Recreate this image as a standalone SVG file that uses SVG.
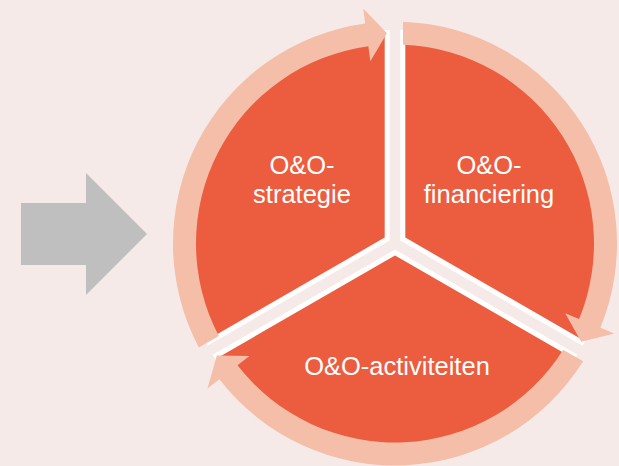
<svg xmlns="http://www.w3.org/2000/svg" width="619" height="466" viewBox="0 0 619 466">
  <style>
    .sector { fill: #EB5D3E; stroke: #FFFFFF; stroke-width: 5; stroke-linejoin: miter; }
    .ring { fill: #F5BEA8; }
    .label { fill: #FFFFFF; font-family: "Liberation Sans", Arial, sans-serif; font-size: 25.5px; text-anchor: middle; }
  </style>
  <defs>
    <path id="ringArrow" d="M -196.13 104.0 A 222 222 0 0 1 -29.75 -220.0 L -31.76 -234.9 L -8 -210.35 L -24.65 -182.3 L -26.67 -197.2 A 199 199 0 0 0 -176.2 92.49 Z"/>
  </defs>
  <rect x="0" y="0" width="619" height="466" fill="#F5EAE8"/>
  <g id="input-arrow">
    <polygon points="21,203 86,203 86,173 147,234 86,295 86,265 21,265" fill="#BFBFBF"/>
  </g>
  <g transform="translate(395,243.5)">
    <g id="strategie">
      <path class="sector" d="M -7.79 -4.5 L -186.62 98.75 A 206.5 206.5 0 0 1 -7.79 -211 Z"/>
    </g>
    <g id="financiering">
      <path class="sector" d="M 7.79 -4.5 L 7.79 -211 A 206.5 206.5 0 0 1 186.62 98.75 Z"/>
    </g>
    <g id="activiteiten">
      <path class="sector" d="M 0 9 L 178.83 112.25 A 206.5 206.5 0 0 1 -178.83 112.25 Z"/>
    </g>
    <g id="connectors">
      <use href="#ringArrow" class="ring"/>
      <use href="#ringArrow" class="ring" transform="rotate(120)"/>
      <use href="#ringArrow" class="ring" transform="rotate(240)"/>
    </g>
  </g>
  <g id="labels">
    <text class="label" x="302" y="174">O&amp;O-<tspan x="302" dy="29">strategie</tspan></text>
    <text class="label" x="489" y="174">O&amp;O-<tspan x="489" dy="29">financiering</tspan></text>
    <text class="label" x="397" y="375">O&amp;O-activiteiten</text>
  </g>
</svg>
